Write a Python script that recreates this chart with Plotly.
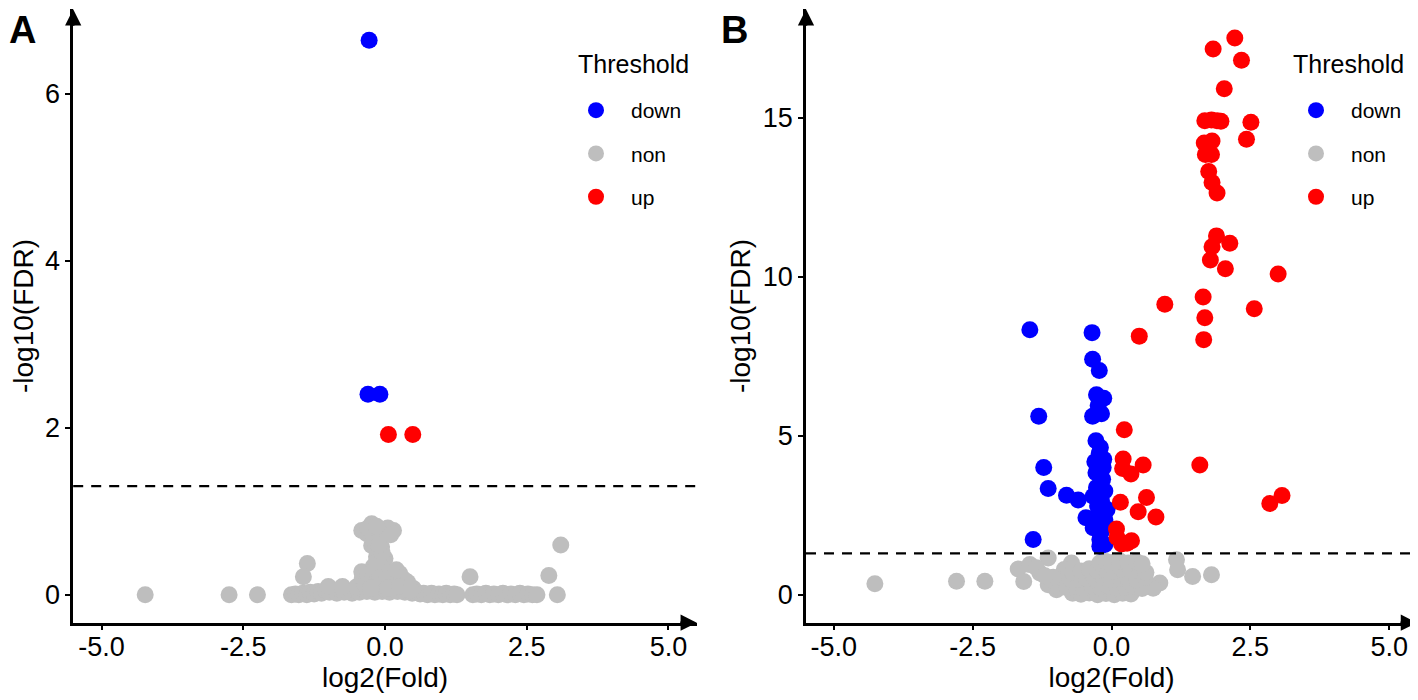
import numpy as np
import plotly.graph_objects as go

FONT = "Liberation Sans, Arial, sans-serif"
FDR_CUTOFF = 0.05

# ---------------- Panel A data ----------------
a_down_x = [-0.28, -0.30, -0.09]
a_down_y = [6.64, 2.40, 2.40]
a_up_x = [0.06, 0.49]
a_up_y = [1.92, 1.92]
a_non_x = [-4.23, -2.75, -2.25, 3.04,
           -1.65, -1.58, -1.52, -1.45, -1.38, -1.32, -1.25, -1.18, -1.12, -1.05, -0.98, -0.92,
           -0.85, -0.78, -0.72, -0.65, -0.58, -0.52, -0.45, -0.38, -0.32, -0.25, -0.18, -0.12,
           -0.05, 0.02, 0.08, 0.15, 0.22, 0.28, 0.35, 0.42, 0.48, 0.55, 0.62, 0.68, 0.75,
           0.82, 0.88, 0.95, 1.02, 1.08, 1.15, 1.22, 1.27,
           1.55, 1.62, 1.70, 1.78, 1.85, 1.92, 2.00, 2.08, 2.15, 2.22, 2.30, 2.38, 2.45,
           2.52, 2.60, 2.68,
           -1.00, -0.75, -1.37, -1.44, 1.50, 2.89, 3.10,
           -0.41, -0.235, -0.09, 0.15, -0.32, -0.235, -0.06, -0.15, 0.00, -0.06,
           -0.41, -0.21, 0.26, 0.35, -0.26, 0.09, -0.09, 0.20, 0.50, -0.50,
           -0.40, -0.30, -0.20, -0.10, 0.00, 0.10, 0.20, 0.30, 0.40, -0.35, -0.25, 0.05,
           0.25, 0.45, -0.15, -0.05, -0.20, -0.10, -0.30, 0.05, -0.15, 0.10]
a_non_y = [0.00, 0.00, 0.00, 0.00,
           0.00, 0.01, 0.00, 0.02, 0.00, 0.03, 0.01, 0.04, 0.02, 0.05, 0.03, 0.06,
           0.02, 0.05, 0.03, 0.04, 0.02, 0.05, 0.03, 0.06, 0.04, 0.05, 0.03, 0.06,
           0.04, 0.05, 0.03, 0.06, 0.04, 0.05, 0.03, 0.04, 0.02, 0.03, 0.01, 0.02, 0.00,
           0.02, 0.00, 0.01, 0.00, 0.02, 0.00, 0.01, 0.00,
           0.00, 0.01, 0.00, 0.02, 0.00, 0.01, 0.00, 0.02, 0.00, 0.01, 0.00, 0.02, 0.00,
           0.01, 0.00, 0.00,
           0.10, 0.10, 0.375, 0.215, 0.215, 0.23, 0.595,
           0.77, 0.85, 0.77, 0.77, 0.73, 0.59, 0.575, 0.455, 0.435, 0.335,
           0.275, 0.335, 0.255, 0.175, 0.175, 0.215, 0.115, 0.115, 0.075, 0.095,
           0.20, 0.25, 0.30, 0.20, 0.15, 0.25, 0.30, 0.20, 0.15, 0.12, 0.08, 0.08,
           0.10, 0.05, 0.40, 0.50, 0.65, 0.60, 0.80, 0.80, 0.82, 0.72]

# ---------------- Panel B data ----------------
b_down_x = [-1.47, -0.35, -0.34, -0.22, -0.27, -0.14, -0.24, -0.34, -0.18, -1.31,
            -0.28, -0.20, -0.14, -0.30, -0.28, -0.16, -0.27, -0.12, -0.33, -0.18,
            -0.08, -0.46, -0.27, -0.12, -0.33, -0.18, -0.21, -0.12, -0.21,
            -1.22, -1.14, -0.81, -0.60, -1.41, -0.22, -0.15, -0.25, -0.10]
b_down_y = [8.33, 8.24, 7.40, 7.05, 6.29, 6.18, 5.95, 5.61, 5.69, 5.61,
            4.84, 4.63, 4.26, 4.18, 3.84, 3.63, 3.37, 3.26, 3.10, 2.95,
            2.68, 2.42, 2.47, 2.37, 2.11, 2.00, 1.74, 1.58, 1.53,
            4.00, 3.34, 3.13, 2.98, 1.74, 4.45, 4.00, 2.80, 2.20]
b_up_x = [2.22, 1.83, 2.34, 2.03, 2.51, 1.68, 1.80, 1.90, 1.97, 2.43,
          1.67, 1.81, 1.69, 1.80, 1.75, 1.81, 1.90, 1.89, 2.13, 1.81,
          1.78, 2.05, 3.00, 0.96, 1.65, 2.57, 1.68, 0.50, 1.66,
          0.23, 0.21, 0.20, 0.35, 0.57, 1.59, 0.16, 0.63, 0.48, 0.80,
          2.85, 3.07, 0.09, 0.10, 0.36, 0.18, 0.28]
b_up_y = [17.50, 17.15, 16.80, 15.90, 14.85, 14.90, 14.92, 14.90, 14.88, 14.32,
          14.20, 14.26, 13.84, 13.84, 13.30, 12.96, 12.63, 11.28, 11.05, 10.94,
          10.52, 10.25, 10.08, 9.13, 9.36, 8.99, 8.71, 8.13, 8.02,
          5.19, 4.27, 3.97, 3.80, 4.08, 4.08, 2.91, 3.06, 2.61, 2.45,
          2.87, 3.12, 2.07, 1.80, 1.70, 1.60, 1.62]
b_non_x = [-4.26, -2.79, -2.28, -1.68, -1.47, -1.14, -1.58, -1.29, -1.14, -1.35,
           -0.72, -0.87, -0.99, -0.63, 0.87, 0.75, 1.17, 1.19, 1.46, 1.80,
           -0.70, -0.55, -0.40, -0.25, -0.10, 0.05, 0.20, 0.35,
           -0.95, -0.80, -0.65, -0.50, -0.35, -0.20, -0.05, 0.10, 0.25, 0.40, 0.55,
           -0.90, -0.75, -0.60, -0.45, -0.30, -0.15, 0.00, 0.15, 0.30, 0.45, 0.60,
           -0.85, -0.70, -0.55, -0.40, -0.25, -0.10, 0.05, 0.20, 0.35, 0.50, 0.62,
           -0.21, -0.10, 0.00, 0.15, 0.30, 0.45, 0.55, -1.05, -1.20]
b_non_y = [0.35, 0.43, 0.43, 0.81, 0.95, 1.16, 0.42, 0.69, 0.32, 0.85,
           1.00, 0.47, 0.16, 0.40, 0.37, 0.21, 1.10, 0.79, 0.58, 0.63,
           0.05, 0.02, 0.06, 0.00, 0.04, 0.00, 0.05, 0.03,
           0.25, 0.22, 0.28, 0.20, 0.26, 0.24, 0.27, 0.22, 0.25, 0.28, 0.20,
           0.55, 0.50, 0.48, 0.52, 0.50, 0.55, 0.48, 0.52, 0.50, 0.47, 0.55,
           0.80, 0.72, 0.75, 0.82, 0.76, 0.78, 0.74, 0.80, 0.75, 0.78, 0.70,
           1.00, 1.05, 1.02, 1.06, 1.00, 1.04, 0.98, 0.55, 0.60]

x_ticks = [-5.0, -2.5, 0.0, 2.5, 5.0]
x_ticktext = ["-5.0", "-2.5", "0.0", "2.5", "5.0"]
a_yticks = [0, 2, 4, 6]
b_yticks = [0, 5, 10, 15]

COL_DOWN = "#0000FF"
COL_NON = "#BEBEBE"
COL_UP = "#FF0000"
MS = 17

# the page body adds an 8px margin, so the figure is drawn 8px smaller
OFF = 8
W, H = 1418 - OFF, 700 - OFF


def px(x):
    return (x - OFF) / W


def py(y):
    return 1 - (y - OFF) / H


fig = go.Figure()


def add_panel(xa, ya, leg, down, non, up):
    fig.add_trace(go.Scatter(x=non[0], y=non[1], mode="markers", name="non",
                             marker=dict(color=COL_NON, size=MS), xaxis=xa, yaxis=ya,
                             legend=leg, legendrank=2, legendgroup=leg + "non"))
    fig.add_trace(go.Scatter(x=down[0], y=down[1], mode="markers", name="down",
                             marker=dict(color=COL_DOWN, size=MS), xaxis=xa, yaxis=ya,
                             legend=leg, legendrank=1, legendgroup=leg + "down"))
    fig.add_trace(go.Scatter(x=up[0], y=up[1], mode="markers", name="up",
                             marker=dict(color=COL_UP, size=MS), xaxis=xa, yaxis=ya,
                             legend=leg, legendrank=3, legendgroup=leg + "up"))


add_panel("x", "y", "legend", (a_down_x, a_down_y), (a_non_x, a_non_y), (a_up_x, a_up_y))
add_panel("x2", "y2", "legend2", (b_down_x, b_down_y), (b_non_x, b_non_y), (b_up_x, b_up_y))

y_dom = [py(622.7), py(9.3)]
axis_common = dict(showline=True, linecolor="black", linewidth=2.5, ticks="outside",
                   ticklen=5, tickwidth=2, tickcolor="black", showgrid=False, zeroline=False,
                   tickfont=dict(family=FONT, size=27, color="black"),
                   title_font=dict(family=FONT, size=28, color="black"))
x_common = dict(range=[-5.5, 5.5], tickvals=x_ticks, ticktext=x_ticktext,
                ticklabelstandoff=-7, title=dict(text="log2(Fold)", standoff=0), **axis_common)
y_common = dict(title=dict(text="-log10(FDR)", standoff=5), **axis_common)
leg_common = dict(xanchor="left", yanchor="top", y=py(90), font=dict(family=FONT, size=21),
                  bgcolor="rgba(0,0,0,0)", tracegroupgap=13, itemwidth=60)

fig.update_layout(
    width=W, height=H, plot_bgcolor="white", paper_bgcolor="white",
    margin=dict(l=0, r=0, t=0, b=0),
    font=dict(family=FONT, color="black"),
    xaxis=dict(domain=[px(73.2), px(696.8)], anchor="y", **x_common),
    yaxis=dict(domain=y_dom, range=[-0.334, 7.01], tickvals=a_yticks, anchor="x", **y_common),
    xaxis2=dict(domain=[px(806), px(1417)], anchor="y2", **x_common),
    yaxis2=dict(domain=y_dom, range=[-0.875, 18.4], tickvals=b_yticks, anchor="x2", **y_common),
    legend=dict(x=px(561), **leg_common),
    legend2=dict(x=px(1281), **leg_common),
    showlegend=True,
)

thr = -np.log10(FDR_CUTOFF)
for xr, yr in (("x", "y"), ("x2", "y2")):
    fig.add_shape(type="line", xref=f"{xr} domain", yref=yr, x0=0, x1=1, y0=thr, y1=thr,
                  line=dict(color="black", width=2.2, dash="10px,8px"))
    fig.add_annotation(xref=f"{xr} domain", yref=f"{yr} domain", x=0, y=1, ax=0, ay=18,
                       text="", showarrow=True, arrowhead=2, arrowsize=1.3, arrowwidth=2.5,
                       arrowcolor="black")
    fig.add_annotation(xref=f"{xr} domain", yref=f"{yr} domain", x=1, y=0, ax=-18, ay=0,
                       text="", showarrow=True, arrowhead=2, arrowsize=1.3, arrowwidth=2.5,
                       arrowcolor="black")

for lx in (576, 1291):
    fig.add_annotation(xref="paper", yref="paper", x=px(lx), y=py(64), xanchor="left",
                       yanchor="middle", text="Threshold", showarrow=False,
                       font=dict(family=FONT, size=25, color="black"))

for lab, lx in (("A", 8), ("B", 720)):
    fig.add_annotation(xref="paper", yref="paper", x=px(lx), y=1, xanchor="left",
                       yanchor="top", text=f"<b>{lab}</b>", showarrow=False, borderpad=0,
                       font=dict(family=FONT, size=38, color="black"))

fig.write_html("out.html")
